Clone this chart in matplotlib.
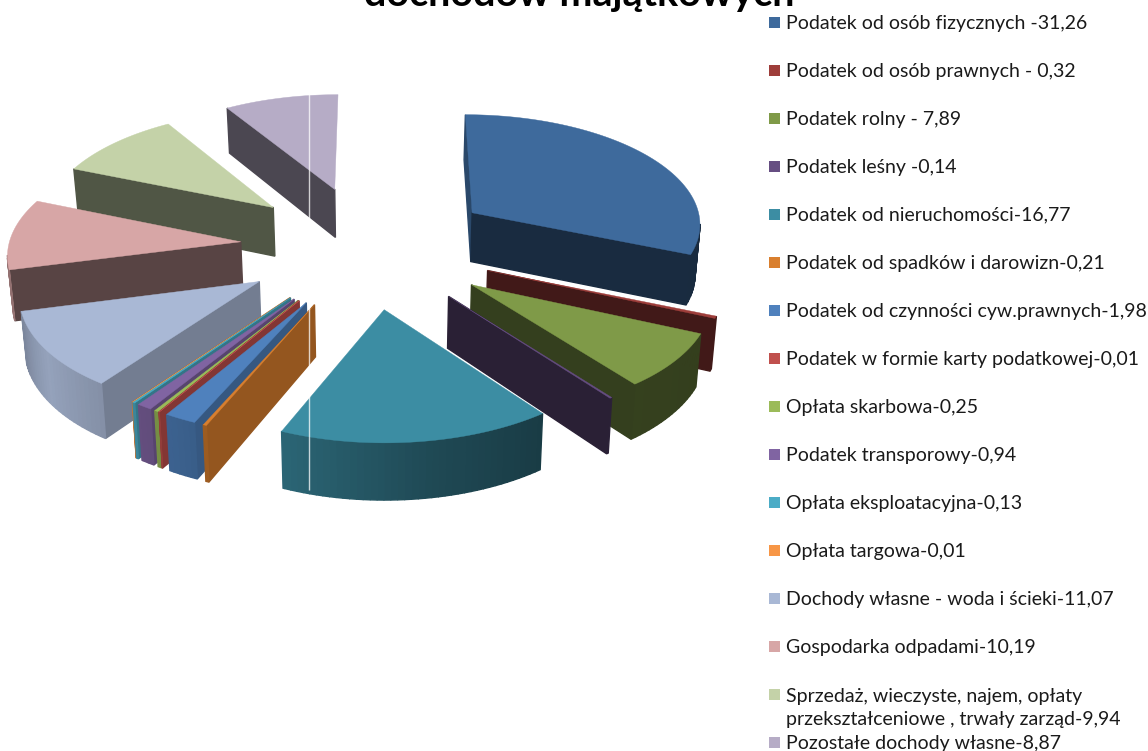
import numpy as np
import matplotlib
matplotlib.use("Agg")
import matplotlib.pyplot as plt
from matplotlib.patches import Polygon
from matplotlib.colors import to_rgb

plt.rcParams["font.family"] = ["Lato", "DejaVu Sans"]

labels = [
    "Podatek od osób fizycznych -31,26",
    "Podatek od osób prawnych - 0,32",
    "Podatek rolny - 7,89",
    "Podatek leśny -0,14",
    "Podatek od nieruchomości-16,77",
    "Podatek od spadków i darowizn-0,21",
    "Podatek od czynności cyw.prawnych-1,98",
    "Podatek w formie karty podatkowej-0,01",
    "Opłata skarbowa-0,25",
    "Podatek transporowy-0,94",
    "Opłata eksploatacyjna-0,13",
    "Opłata targowa-0,01",
    "Dochody własne - woda i ścieki-11,07",
    "Gospodarka odpadami-10,19",
    "Sprzedaż, wieczyste, najem, opłaty\nprzekształceniowe , trwały zarząd-9,94",
    "Pozostałe dochody własne-8,87",
]
values = [31.26, 0.32, 7.89, 0.14, 16.77, 0.21, 1.98, 0.01,
          0.25, 0.94, 0.13, 0.01, 11.07, 10.19, 9.94, 8.87]
colors = ["#3E6A9C", "#9E3D3A", "#7F9A48", "#664E82", "#3C8DA3", "#D97F2E",
          "#4F81BD", "#C0504D", "#9BBB59", "#8064A2", "#4BACC6", "#F79646",
          "#A9B8D5", "#D7A6A6", "#C4D2A8", "#B6ACC6"]
legend_y = [22, 70, 118, 166, 214, 262, 310, 358, 406, 454, 502, 550, 598, 646, 694, 742]

# pie geometry, in pixels
RADIUS = 232
EXPLODE = 128
THICK = 50
VX, VY = 380, -1120      # vanishing point
Y0 = 246
X_SHIFT = -12
DEPTH = 2850


def project(x, y, bottom=False):
    w = 1 + y / DEPTH
    sx = VX + (x + X_SHIFT) / w
    sy = VY + (Y0 - VY) / w
    if bottom:
        sx = VX + (sx - VX) * 0.985
        sy = sy + THICK / w
    return sx, sy


def shade(col, f):
    return tuple(c * f for c in to_rgb(col))


def arc_factor(deg):
    return np.interp(deg, [100, 142, 170, 203, 236, 300], [0.40, 0.42, 0.52, 0.72, 0.88, 0.40])


def add_face(ax, xy_a, xy_b, col):
    top = np.array([project(*xy_a), project(*xy_b)])
    low = np.array([project(*xy_b, bottom=True), project(*xy_a, bottom=True)])
    ax.add_patch(Polygon(np.vstack([top, low]), closed=True, fc=col, ec=col, lw=1.0))


def draw_slice(ax, start, end, col):
    mid = np.radians((start + end) / 2)
    ox, oy = EXPLODE * np.sin(mid), EXPLODE * np.cos(mid)
    degs = np.arange(start, end, 1.5)
    degs = np.append(degs, end)
    rad = np.radians(degs)
    xs = ox + RADIUS * np.sin(rad)
    ys = oy + RADIUS * np.cos(rad)
    px0 = project(ox, oy)[0]

    # start side, visible only if it runs to the left on screen
    if project(xs[0], ys[0])[0] < px0:
        add_face(ax, (ox, oy), (xs[0], ys[0]), shade(col, 0.68 if start < 240 else 0.41))
    # outer rim
    for i in range(len(degs) - 1):
        if project(xs[i + 1], ys[i + 1])[0] < project(xs[i], ys[i])[0]:
            add_face(ax, (xs[i], ys[i]), (xs[i + 1], ys[i + 1]),
                     shade(col, arc_factor((degs[i] + degs[i + 1]) / 2)))
    # end side, skipped when it is only a sliver
    if px0 + 5 < project(xs[-1], ys[-1])[0]:
        add_face(ax, (xs[-1], ys[-1]), (ox, oy), shade(col, 0.41))

    sx, sy = project(np.append(ox, xs), np.append(oy, ys))
    ax.add_patch(Polygon(np.column_stack([sx, sy]), closed=True, fc=col, ec=col, lw=0.3))


fig = plt.figure(figsize=(11.48, 7.51), dpi=100)
ax = fig.add_axes([0, 0, 1, 1])
ax.set_xlim(0, 1148)
ax.set_ylim(751, 0)
ax.axis("off")

edges = np.cumsum([0] + values) / sum(values) * 360
mids = (edges[:-1] + edges[1:]) / 2
for i in np.argsort(-np.cos(np.radians(mids))):
    draw_slice(ax, edges[i], edges[i + 1], colors[i])

# thin white line left over in the original picture
ax.vlines(309, 93, 490, color="white", lw=1, alpha=0.75)

ax.text(579, 6, "dochodów majątkowych", fontsize=28.4, fontweight="bold",
        ha="center", va="baseline", color="black")

for lab, col, y in zip(labels, colors, legend_y):
    ax.add_patch(Polygon([(769, y - 5.5), (780, y - 5.5), (780, y + 5.5), (769, y + 5.5)],
                         closed=True, fc=col, ec="none"))
    if "\n" in lab:
        ax.text(786, y + 14, lab, fontsize=14.05, va="center", ha="left",
                color="#1a1a1a", linespacing=1.4)
    else:
        ax.text(786, y + 1, lab, fontsize=14.05, va="center", ha="left", color="#1a1a1a")

fig.savefig("out.png", dpi=100)
